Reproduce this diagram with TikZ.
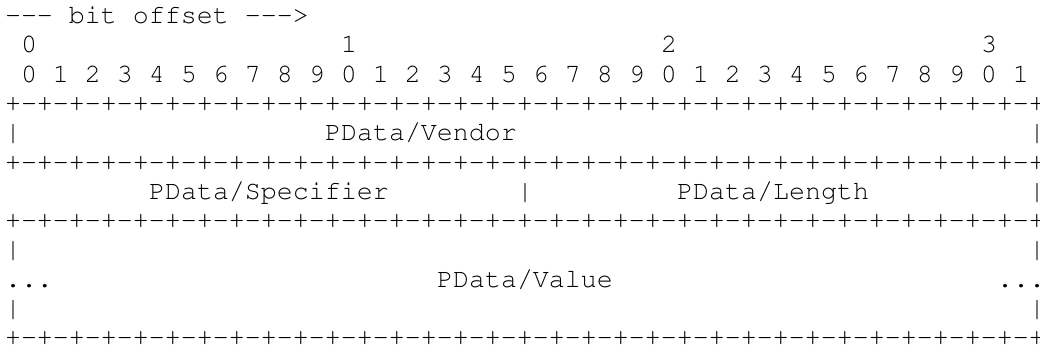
\documentclass[tikz,border=0pt]{standalone}
\usepackage[T1]{fontenc}
\usepackage{courier}
\begin{document}
\frenchspacing
\def\bord{+-+-+-+-+-+-+-+-+-+-+-+-+-+-+-+-+-+-+-+-+-+-+-+-+-+-+-+-+-+-+-+-+}
\begin{tikzpicture}[x=8pt,y=-14.65pt,
  asc/.style={anchor=base west, inner sep=0pt, outer sep=0pt,
    font=\fontsize{13.333pt}{14.65pt}\selectfont\ttfamily, text=black}]
\fill[white] (0pt,0pt) rectangle (520pt,-174pt);
\useasboundingbox (0pt,0pt) rectangle (520pt,-174pt);
\begin{scope}[shift={(2.5pt,-11.75pt)}]
% header
\node[asc] (hdr) at (0,0) {-{}-{}- bit offset -{}-{}->};
\node[asc] (t0) at (1,1) {0};
\node[asc] (t1) at (21,1) {1};
\node[asc] (t2) at (41,1) {2};
\node[asc] (t3) at (61,1) {3};
\node[asc] (bits) at (1,2) {0 1 2 3 4 5 6 7 8 9 0 1 2 3 4 5 6 7 8 9 0 1 2 3 4 5 6 7 8 9 0 1};
% borders
\node[asc] (b1) at (0,3) {\bord};
\node[asc] (b2) at (0,5) {\bord};
\node[asc] (b3) at (0,7) {\bord};
\node[asc] (b4) at (0,11) {\bord};
% row: vendor
\node[asc] (v1) at (0,4) {|};
\node[asc] (vendor) at (20,4) {PData/Vendor};
\node[asc] (v2) at (64,4) {|};
% row: specifier / length
\node[asc] (spec) at (9,6) {PData/Specifier};
\node[asc] (s1) at (32,6) {|};
\node[asc] (len) at (42,6) {PData/Length};
\node[asc] (s2) at (64,6) {|};
% value block
\node[asc] (p1) at (0,8) {|};
\node[asc] (p2) at (64,8) {|};
\node[asc] (d1) at (0,9) {...};
\node[asc] (value) at (27,9) {PData/Value};
\node[asc] (d2) at (62,9) {...};
\node[asc] (p3) at (0,10) {|};
\node[asc] (p4) at (64,10) {|};
\end{scope}
\end{tikzpicture}
\end{document}
